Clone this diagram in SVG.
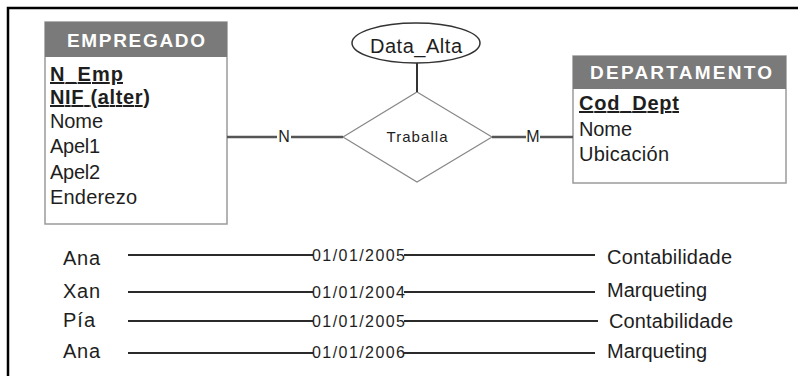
<svg xmlns="http://www.w3.org/2000/svg" width="798" height="376" viewBox="0 0 798 376">
<style>
text{font-family:"Liberation Sans",Arial,sans-serif;fill:#1e1e1e}
.hdr{fill:#fff;font-weight:bold;font-size:19px;text-anchor:middle}
.att{font-size:20px}
.key{font-size:20px;font-weight:bold;text-decoration:underline}
.small{font-size:15px}
.date{font-size:16px}
.box{fill:#fff;stroke:#9a9a9a;stroke-width:1.5}
.head{fill:#7a7a7a}
.conn{stroke:#555;stroke-width:2.4;fill:none}
.row{stroke:#2a2a2a;stroke-width:2.2;fill:none}
</style>
<path d="M8 376 V8 H798" fill="none" stroke="#000" stroke-width="2.5"/>
<g id="empregado">
<rect class="box" x="45" y="22" width="182" height="202"/>
<rect class="head" x="45" y="22" width="182" height="35"/>
<text class="hdr" x="136" y="47" textLength="138" lengthAdjust="spacing">EMPREGADO</text>
<text class="key" x="50" y="81" textLength="73" lengthAdjust="spacing">N_Emp</text>
<text class="key" x="50" y="104" textLength="100" lengthAdjust="spacing">NIF (alter)</text>
<text class="att" x="50" y="128" textLength="53" lengthAdjust="spacing">Nome</text>
<text class="att" x="50" y="153" textLength="50" lengthAdjust="spacing">Apel1</text>
<text class="att" x="50" y="179" textLength="50" lengthAdjust="spacing">Apel2</text>
<text class="att" x="50" y="204" textLength="87" lengthAdjust="spacing">Enderezo</text>
</g>
<g id="departamento">
<rect class="box" x="573" y="56" width="213" height="127"/>
<rect class="head" x="573" y="56" width="213" height="33"/>
<text class="hdr" x="681" y="79" textLength="182" lengthAdjust="spacing">DEPARTAMENTO</text>
<text class="key" x="579" y="110" textLength="100" lengthAdjust="spacing">Cod_Dept</text>
<text class="att" x="579" y="136" textLength="53" lengthAdjust="spacing">Nome</text>
<text class="att" x="579" y="161" textLength="90" lengthAdjust="spacing">Ubicación</text>
</g>
<g id="data_alta">
<ellipse cx="416" cy="43" rx="64" ry="20" fill="#fff" stroke="#333" stroke-width="1.5"/>
<text class="att" x="416" y="53" text-anchor="middle" textLength="92" lengthAdjust="spacing">Data_Alta</text>
</g>
<g id="traballa">
<polygon points="417,92 492,137 417,182 343,137" fill="#fff" stroke="#888" stroke-width="1.2"/>
<text class="small" x="417" y="142" text-anchor="middle" textLength="61" lengthAdjust="spacing">Traballa</text>
</g>
<g id="connectors">
<line x1="417" y1="63" x2="417" y2="92" stroke="#333" stroke-width="2"/>
<line class="conn" x1="227" y1="137" x2="277" y2="137"/>
<line class="conn" x1="291" y1="137" x2="343" y2="137"/>
<text class="date" x="284" y="142" text-anchor="middle">N</text>
<line class="conn" x1="492" y1="137" x2="526" y2="137"/>
<line class="conn" x1="540" y1="137" x2="573" y2="137"/>
<text class="date" x="533" y="142" text-anchor="middle">M</text>
</g>
<g id="rows">
<text class="att" x="63" y="265" textLength="37" lengthAdjust="spacing">Ana</text>
<line class="row" x1="128" y1="255" x2="313" y2="255"/>
<text class="date" x="312" y="261" textLength="93" lengthAdjust="spacing">01/01/2005</text>
<line class="row" x1="404" y1="255" x2="595" y2="255"/>
<text class="att" x="607" y="264" textLength="125" lengthAdjust="spacing">Contabilidade</text>

<text class="att" x="63" y="298" textLength="37" lengthAdjust="spacing">Xan</text>
<line class="row" x1="128" y1="292" x2="313" y2="292"/>
<text class="date" x="312" y="298" textLength="93" lengthAdjust="spacing">01/01/2004</text>
<line class="row" x1="404" y1="292" x2="595" y2="292"/>
<text class="att" x="607" y="297" textLength="100" lengthAdjust="spacing">Marqueting</text>

<text class="att" x="63" y="327" textLength="32" lengthAdjust="spacing">Pía</text>
<line class="row" x1="128" y1="321" x2="313" y2="321"/>
<text class="date" x="312" y="327" textLength="93" lengthAdjust="spacing">01/01/2005</text>
<line class="row" x1="404" y1="321" x2="598" y2="321"/>
<text class="att" x="609" y="328" textLength="124" lengthAdjust="spacing">Contabilidade</text>

<text class="att" x="63" y="358" textLength="37" lengthAdjust="spacing">Ana</text>
<line class="row" x1="128" y1="353" x2="313" y2="353"/>
<text class="date" x="312" y="358" textLength="93" lengthAdjust="spacing">01/01/2006</text>
<line class="row" x1="404" y1="353" x2="595" y2="353"/>
<text class="att" x="607" y="358" textLength="100" lengthAdjust="spacing">Marqueting</text>
</g>
</svg>
